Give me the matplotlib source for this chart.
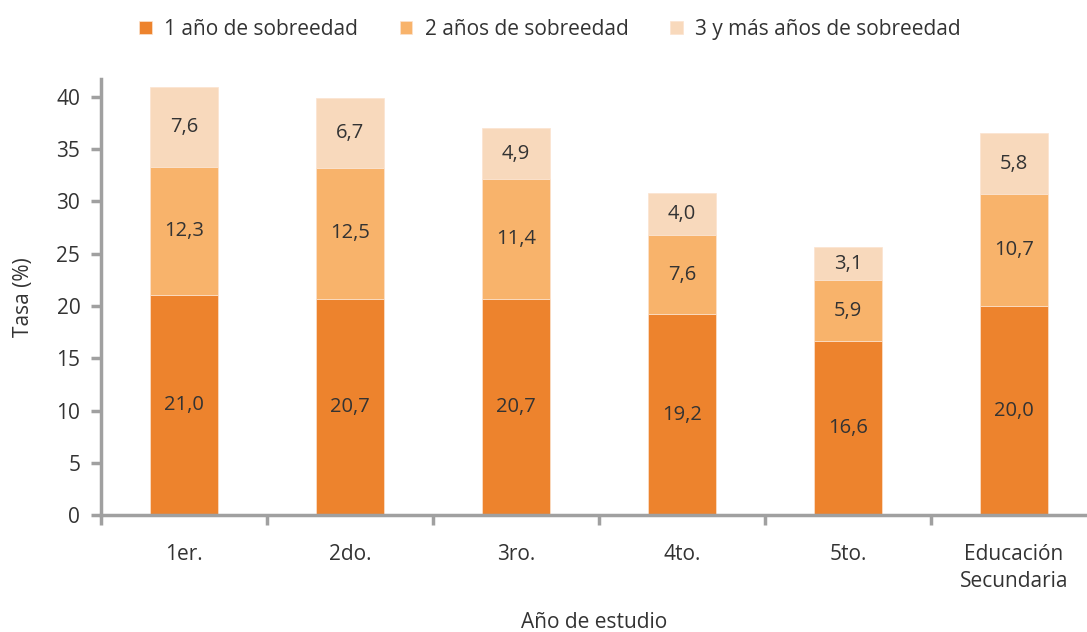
import matplotlib
matplotlib.use('Agg')
import matplotlib.pyplot as plt
import numpy as np

categorias = ['1er.', '2do.', '3ro.', '4to.', '5to.', 'Educación\nSecundaria']
un_anio = [21.0, 20.7, 20.7, 19.2, 16.6, 20.0]
dos_anios = [12.3, 12.5, 11.4, 7.6, 5.9, 10.7]
tres_mas = [7.6, 6.7, 4.9, 4.0, 3.1, 5.8]
series_nombres = ['1 año de sobreedad', '2 años de sobreedad', '3 y más años de sobreedad']

colores = ['#ED832D', '#F8B36B', '#F8D9BC']
gris = '#A0A0A0'
texto = '#333333'

plt.rcParams['font.family'] = ['Open Sans', 'DejaVu Sans']

fig = plt.figure(figsize=(10.87, 6.32), dpi=100)
ax = fig.add_axes([0.093, 0.185, 0.907, 0.69])

x = np.arange(len(categorias))
ancho = 0.41
base = np.zeros(len(categorias))
for vals, col, nombre in zip([un_anio, dos_anios, tres_mas], colores, series_nombres):
    vals = np.array(vals)
    ax.bar(x, vals, ancho, bottom=base, color=col, label=nombre,
           edgecolor='#FBE3CF', linewidth=0.5)
    for xi, b, v in zip(x, base, vals):
        ax.text(xi, b + v / 2, f'{v:.1f}'.replace('.', ','), ha='center', va='center',
                fontsize=14.5, color=texto)
    base = base + vals

ax.set_xlim(-0.5, 5.44)
ax.set_ylim(0, 41.7)
ax.set_yticks(range(0, 41, 5))
ax.set_xticks(x)
ax.set_xticklabels(categorias, linespacing=1.35)
ax.set_xticks(np.arange(-0.5, 5.5, 1), minor=True)

for s in ['top', 'right']:
    ax.spines[s].set_visible(False)
for s in ['left', 'bottom']:
    ax.spines[s].set_color(gris)
    ax.spines[s].set_linewidth(2.5)

ax.tick_params(axis='y', colors=gris, labelcolor=texto, labelsize=15, width=2.5, length=7,
               direction='out', pad=8)
ax.tick_params(axis='x', which='major', length=0, labelcolor=texto, labelsize=15, pad=21)
ax.tick_params(axis='x', which='minor', length=7, width=2.5, colors=gris)

ax.set_ylabel('Tasa (%)', fontsize=15, color=texto)
ax.yaxis.set_label_coords(-0.068, 0.5)
ax.set_xlabel('Año de estudio', fontsize=15, color=texto, va='center')
ax.xaxis.set_label_coords(0.5, -0.246)

fig.legend(loc='upper center', bbox_to_anchor=(0.506, 1.0), ncol=3, frameon=False,
           fontsize=15, handlelength=0.6, handleheight=0.6, columnspacing=2.0,
           handletextpad=0.6, labelcolor=texto)

fig.savefig('out.png', dpi=100)
